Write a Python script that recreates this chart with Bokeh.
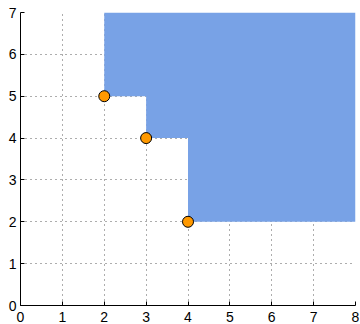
from bokeh.plotting import figure
from bokeh.embed import file_html
from bokeh.resources import INLINE
from bokeh.models import FixedTicker, Range1d

# data
point_x = [2, 3, 4]
point_y = [5, 4, 2]
x_ticks = [0, 1, 2, 3, 4, 5, 6, 7, 8]
y_ticks = [0, 1, 2, 3, 4, 5, 6, 7]
x_max = 8
y_max = 7

# staircase region built from the points
px = [point_x[0]]
py = [y_max]
for i, (xx, yy) in enumerate(zip(point_x, point_y)):
    px.append(xx); py.append(yy)
    if i + 1 < len(point_x):
        px.append(point_x[i + 1]); py.append(yy)
px += [x_max, x_max]
py += [point_y[-1], y_max]

p = figure(width=360, height=324, output_backend="svg", toolbar_location=None,
           x_range=Range1d(0, x_max), y_range=Range1d(0, y_max),
           min_border_left=20, min_border_right=5, min_border_top=12, min_border_bottom=19)
p.outline_line_color = None
p.background_fill_color = "white"
p.border_fill_color = "white"

for ax in (p.xaxis, p.yaxis):
    ax.axis_line_color = "black"
    ax.axis_line_width = 1
    ax.major_tick_in = 4
    ax.major_tick_out = 0
    ax.minor_tick_in = 0
    ax.minor_tick_out = 0
    ax.major_label_text_font = "Liberation Sans"
    ax.major_label_text_font_size = "14px"
    ax.major_label_text_color = "black"
p.xaxis.major_label_standoff = 6
p.yaxis.major_label_standoff = 4
p.xaxis.ticker = FixedTicker(ticks=x_ticks)
p.yaxis.ticker = FixedTicker(ticks=y_ticks)

for g in (p.xgrid, p.ygrid):
    g.grid_line_color = "#333333"
    g.grid_line_dash = "1 4"
    g.grid_line_width = 1
    g.grid_line_alpha = 0.8

p.patch(px, py, fill_color="#78A2E6", line_color=None)
p.scatter(point_x, point_y, size=11, fill_color="#FF9900", line_color="black", line_width=1)

open("out.html", "w").write(file_html(p, INLINE))
